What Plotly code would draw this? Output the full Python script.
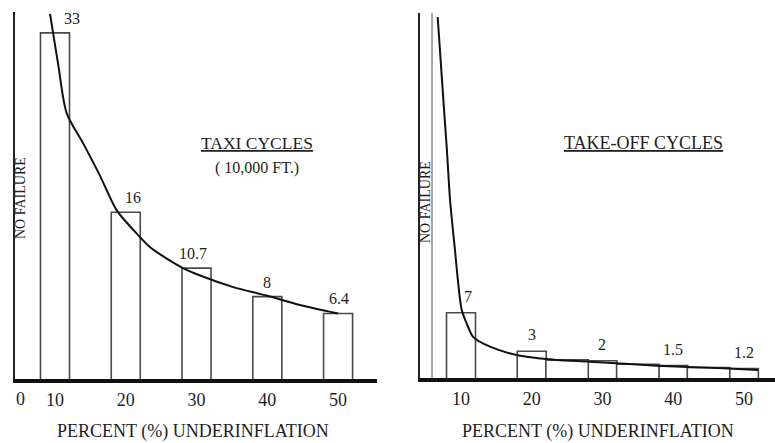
import plotly.graph_objects as go

# ---------------- data ----------------
underinflation = [10, 20, 30, 40, 50]
taxi_cycles = [33, 16, 10.7, 8, 6.4]
taxi_labels = ["33", "16", "10.7", "8", "6.4"]
takeoff_cycles = [7, 3, 2, 1.5, 1.2]
takeoff_labels = ["7", "3", "2", "1.5", "1.2"]

# filler boxes between take-off bars
takeoff_fill_x = [25, 35, 45]
takeoff_fill_values = [2.1, 1.65, 1.3]

# fitted curves
taxi_curve_x = [9.3, 10.5, 11.65, 14.0, 16.4, 18.7, 21.1, 23.4, 25.8, 28.1, 30.5, 35.2, 39.9, 44.6, 49.3, 50.0]
taxi_curve_y = [34.8, 29.8, 25.4, 22.5, 19.4, 16.2, 14.3, 12.7, 11.6, 10.7, 10.0, 8.9, 8.1, 7.2, 6.5, 6.4]
takeoff_curve_x = [6.7, 7.5, 8.0, 8.45, 9.15, 9.6, 10.1, 11.0, 11.7, 14.1, 17.9, 23.5, 28.2, 37.7, 47.1, 52.0]
takeoff_curve_y = [37.8, 29.2, 24.0, 18.75, 13.5, 10.1, 7.3, 5.55, 4.5, 3.47, 2.6, 2.08, 1.91, 1.49, 1.22, 1.04]

no_failure_x_takeoff = 5.9
tick_vals = [10, 20, 30, 40, 50]
tick_text = ["10", "20", "30", "40", "50"]

# ---------------- style ----------------
FONT = "Liberation Serif"
TXT = "#1e1e1e"
BAR_LINE = "#4a4a4a"
BAR_W = 4.1
label_dx_taxi = [2.4, 1.0, -0.5, 0.0, 0.1]
label_dx_takeoff = [1.0, 0.0, 0.0, 0.0, 0.0]

W, H = 775, 443
def px(x):
    return x / W
def py(y):
    return 1 - y / H

fig = go.Figure()

bar_marker = dict(color="white", line=dict(color=BAR_LINE, width=1.6))

# left panel
fig.add_trace(go.Bar(x=underinflation, y=taxi_cycles, width=BAR_W, marker=bar_marker,
                     xaxis="x", yaxis="y", hoverinfo="skip"))
fig.add_trace(go.Scatter(x=taxi_curve_x, y=taxi_curve_y, mode="lines",
                         line=dict(color="#111", width=2, shape="spline", smoothing=0.8),
                         xaxis="x", yaxis="y", hoverinfo="skip"))

# right panel
fig.add_trace(go.Bar(x=underinflation, y=takeoff_cycles, width=BAR_W, marker=bar_marker,
                     xaxis="x2", yaxis="y2", hoverinfo="skip"))
fig.add_trace(go.Bar(x=takeoff_fill_x, y=takeoff_fill_values, width=6, marker=bar_marker,
                     xaxis="x2", yaxis="y2", hoverinfo="skip"))
fig.add_trace(go.Scatter(x=takeoff_curve_x, y=takeoff_curve_y, mode="lines",
                         line=dict(color="#111", width=2, shape="spline", smoothing=0.8),
                         xaxis="x2", yaxis="y2", hoverinfo="skip"))
fig.add_trace(go.Scatter(x=[no_failure_x_takeoff, no_failure_x_takeoff], y=[0, 38.3], mode="lines",
                         line=dict(color="#8a8a8a", width=1.5),
                         xaxis="x2", yaxis="y2", hoverinfo="skip"))

ann = []
for xv, yv, t, dx in zip(underinflation, taxi_cycles, taxi_labels, label_dx_taxi):
    ann.append(dict(x=xv + dx, y=yv, xref="x", yref="y", text=t, showarrow=False,
                    xanchor="center", yanchor="bottom", yshift=4,
                    font=dict(size=16, color=TXT, family=FONT)))
for xv, yv, t, dx in zip(underinflation, takeoff_cycles, takeoff_labels, label_dx_takeoff):
    ann.append(dict(x=xv + dx, y=yv, xref="x2", yref="y2", text=t, showarrow=False,
                    xanchor="center", yanchor="bottom", yshift=6,
                    font=dict(size=16, color=TXT, family=FONT)))

def pann(x, y, text, size, angle=0):
    return dict(x=px(x), y=py(y), xref="paper", yref="paper", text=text, textangle=angle,
                xanchor="center", yanchor="middle", showarrow=False,
                font=dict(size=size, color=TXT, family=FONT))

ann += [
    pann(257, 143, "<u>TAXI CYCLES</u>", 17.5),
    pann(257, 168, "( 10,000 FT.)", 16),
    pann(643, 143, "<u>TAKE-OFF CYCLES</u>", 18),
    pann(20, 198, "NO FAILURE", 14, -90),
    pann(425, 202, "NO FAILURE", 14, -90),
    pann(20, 399, "0", 18),
    pann(193, 431, "PERCENT (%) UNDERINFLATION", 18),
    pann(598, 431, "PERCENT (%) UNDERINFLATION", 18),
]

xaxis_common = dict(showgrid=False, zeroline=False, showline=True, linecolor="#111", linewidth=4,
                    ticks="", tickvals=tick_vals, ticktext=tick_text, ticklabelstandoff=1,
                    tickfont=dict(size=18, color=TXT, family=FONT), fixedrange=True)
yaxis_common = dict(showgrid=False, zeroline=False, showline=True, linecolor="#222", linewidth=2,
                    showticklabels=False, ticks="", fixedrange=True)

fig.update_layout(
    width=W, height=H, margin=dict(l=0, r=0, t=0, b=0),
    paper_bgcolor="white", plot_bgcolor="white", showlegend=False, barmode="overlay",
    xaxis=dict(domain=[px(15), px(377)], range=[4.35, 55.5], anchor="y", **xaxis_common),
    yaxis=dict(domain=[py(379), py(12)], range=[0.19, 34.98], anchor="x", **yaxis_common),
    xaxis2=dict(domain=[px(420), 1.0], range=[4.2, 54.4], anchor="y2", **xaxis_common),
    yaxis2=dict(domain=[py(378), py(13)], range=[0.21, 38.23], anchor="x2", **yaxis_common),
    annotations=ann,
)

fig.write_html("out.html", config={"displayModeBar": False},
               post_script="document.body.style.margin='0';")
